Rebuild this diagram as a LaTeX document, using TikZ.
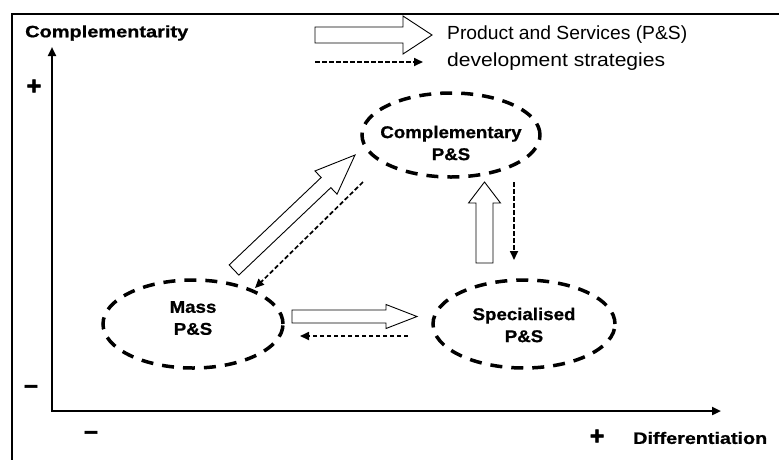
\documentclass[tikz,border=0pt]{standalone}
\usepackage{fontspec}
\usepackage{graphicx}
\setmainfont{Liberation Sans}
\newfontfamily\heavyf[FakeBold=0.8]{Liberation Sans Bold}
\newfontfamily\symf[FakeBold=2]{Liberation Sans Bold}
\usetikzlibrary{arrows.meta,calc,shapes.geometric}
\newcommand{\sxw}[2]{\resizebox{#1}{\height}{#2}}
\newcommand{\nl}[1]{\scalebox{1.1}[1]{#1}}
\newcommand{\blockarr}[5]{%
  \coordinate (#1h) at ($(#2)!#5!(#1)$);
  \draw[hollow] ($(#1)!#3!90:(#2)$) -- ($(#1h)!#3!90:(#2)$) -- ($(#1h)!#4!90:(#2)$)
     -- (#2) -- ($(#1h)!#4!-90:(#2)$) -- ($(#1h)!#3!-90:(#2)$) -- ($(#1)!#3!-90:(#2)$) -- cycle;}
\begin{document}
\begin{tikzpicture}[x=1pt,y=-1pt,
  ell/.style={draw, ellipse, line width=3.5pt, dash pattern=on 12pt off 9pt, inner sep=0pt},
  lbl/.style={font=\fontsize{17}{22}\heavyf, align=center, inner sep=0pt},
  hollow/.style={draw, line width=0.9pt, fill=white, line join=miter},
  dsh/.style={line width=1.7pt, dash pattern=on 4.5pt off 2.5pt, -{Triangle[length=9pt,width=8pt]}},
  axisline/.style={line width=2.2pt, {Triangle[length=9pt,width=8pt]}-{Triangle[length=9pt,width=8pt]}},
  tx/.style={inner sep=0pt, anchor=west},
  sym/.style={inner sep=0pt, font=\fontsize{25}{25}\symf}]
\useasboundingbox (0,0) rectangle (779,459);
\clip (0,0) rectangle (779,459);
\fill[white] (0,0) rectangle (779,459);
% frame
\draw[line width=2pt] (12,470) -- (12,14) -- (790,14);
% axes
\coordinate (O) at (52,411);
\coordinate (ytip) at (52,47);
\coordinate (xtip) at (721,411);
\draw[axisline] (ytip) -- (O) -- (xtip);
\node[tx, font=\fontsize{16.5}{20}\heavyf] (ylab) at (25,33) {\sxw{163pt}{Complementarity}};
\node[tx, font=\fontsize{16.5}{20}\heavyf] (xlab) at (633,438) {\sxw{134pt}{Differentiation}};
\node[sym] (yplus) at (34,87) {+};
\node[sym] (yminus) at (31,389) {–};
\node[sym] (xminus) at (91,435) {–};
\node[sym] (xplus) at (597,437) {+};
% legend
\coordinate (lgA) at (315,35);
\coordinate (lgB) at (432,35);
\blockarr{lgA}{lgB}{8pt}{19pt}{29pt}
\coordinate (ldA) at (315,62);
\coordinate (ldB) at (423,62);
\draw[dsh] (ldA) -- (ldB);
\node[tx, font=\fontsize{19}{22}\selectfont] (leg1) at (447,35) {\sxw{240pt}{Product and Services (P\&S)}};
\node[tx, font=\fontsize{19}{22}\selectfont] (leg2) at (447,62) {\sxw{218pt}{development strategies}};
% ellipses
\node[ell, minimum width=178pt, minimum height=84pt,
  label={[lbl,yshift=-8pt]center:{\nl{Complementary}\\\nl{P\&S}}}] (comp) at (451,135) {};
\node[ell, minimum width=180pt, minimum height=88pt,
  label={[lbl,yshift=6pt]center:{\nl{Mass}\\\nl{P\&S}}}] (mass) at (193,324) {};
\node[ell, minimum width=182pt, minimum height=88pt,
  label={[lbl,yshift=-1pt]center:{\nl{Specialised}\\\nl{P\&S}}}] (spec) at (524,324) {};
% hollow arrows
\coordinate (dA) at (234,270);
\coordinate (dB) at (355,155);
\blockarr{dA}{dB}{7pt}{16pt}{40pt}
\coordinate (vA) at (484.5,263);
\coordinate (vB) at (484.5,182);
\blockarr{vA}{vB}{8.5pt}{16pt}{21pt}
\coordinate (hA) at (292,316.5);
\coordinate (hB) at (417,316.5);
\blockarr{hA}{hB}{6.5pt}{12pt}{31pt}
% dashed arrows
\coordinate (ddA) at (363,182);
\coordinate (ddB) at (255,288);
\draw[dsh] (ddA) -- (ddB);
\coordinate (dvA) at (514,182);
\coordinate (dvB) at (514,260);
\draw[dsh] (dvA) -- (dvB);
\coordinate (dhA) at (408,336);
\coordinate (dhB) at (300,336);
\draw[dsh] (dhA) -- (dhB);
\end{tikzpicture}
\end{document}
